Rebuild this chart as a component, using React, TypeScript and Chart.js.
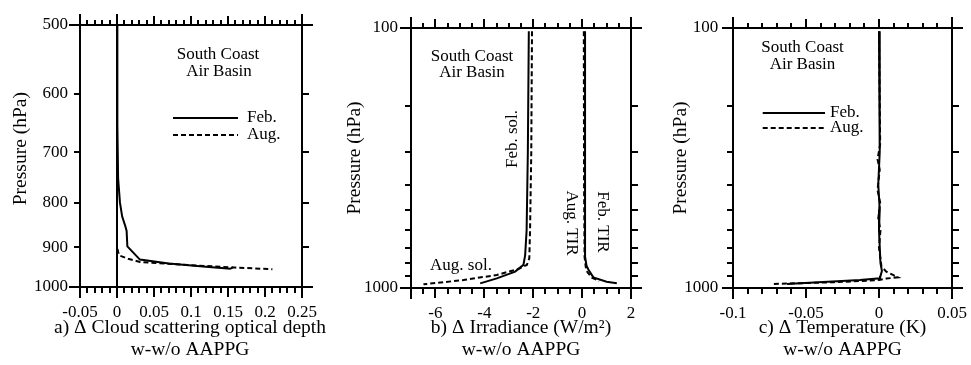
import React, { useEffect, useRef } from 'react';
import { Chart, registerables } from 'chart.js';

Chart.register(...registerables);

const SERIF = '"Liberation Serif", "Times New Roman", Times, serif';
Chart.defaults.font.family = SERIF;
Chart.defaults.font.size = 17;
Chart.defaults.color = '#000';

// ---------- Panel a: cloud scattering optical depth ----------
const aFebTau = [0, 0.0005, 0.0015, 0.004, 0.007, 0.011, 0.013, 0.014, 0.031, 0.07, 0.12, 0.153, 0.157];
const aFebP = [500, 650, 750, 800, 830, 850, 862, 898, 930, 940, 948, 953, 949];
const aAugTau = [0, 0, 0.001, 0.003, 0.015, 0.031, 0.1, 0.16, 0.21];
const aAugP = [500, 895, 908, 920, 928, 936, 944, 950, 954];
const aXMajor = [-0.05, 0, 0.05, 0.1, 0.15, 0.2, 0.25];
const aXLabels = ['-0.05', '0', '0.05', '0.1', '0.15', '0.2', '0.25'];
const aYMajor = [500, 600, 700, 800, 900, 1000];
const aYLabels = ['500', '600', '700', '800', '900', '1000'];

// ---------- Panel b: irradiance ----------
const bFebSolW = [-2.18, -2.22, -2.27, -2.33, -2.4, -2.74, -3.49, -4.17];
const bFebSolP = [103, 300, 600, 747, 815, 865, 918, 960];
const bAugSolW = [-2.05, -2.08, -2.13, -2.16, -2.26, -2.61, -3.49, -4.85, -6.49];
const bAugSolP = [103, 300, 600, 769, 815, 845, 891, 932, 968];
const bFebTirW = [0.12, 0.12, 0.12, 0.18, 0.26, 0.46, 1.0, 1.42];
const bFebTirP = [103, 400, 758, 820, 851, 910, 946, 959];
const bAugTirW = [0.07, 0.08, 0.1, 0.15, 0.22, 0.4, 0.7];
const bAugTirP = [103, 400, 758, 830, 870, 912, 940];
const bXMajor = [-6, -4, -2, 0, 2];
const bXLabels = ['-6', '-4', '-2', '0', '2'];

// ---------- Panel c: temperature ----------
const cFebT = [0, 0.0005, -0.0005, 0.0005, 0, 0.001, 0.002, 0.001, 0.0007, -0.013, -0.054, -0.063];
const cFebP = [103, 300, 400, 500, 600, 800, 860, 900, 918, 932, 959, 966];
const cAugT = [0, 0.0008, -0.001, 0.0005, -0.001, 0.0008, -0.0005, 0.001, 0, 0.0017, 0.005, 0.0096, 0.013, 0.005, 0, -0.03, -0.072];
const cAugP = [103, 280, 320, 350, 420, 470, 540, 600, 700, 827, 865, 891, 910, 920, 932, 950, 965];
const cXMajor = [-0.1, -0.05, 0, 0.05];
const cXLabels = ['-0.1', '-0.05', '0', '0.05'];

// shared pressure ticks for b and c
const pYMajor = [100, 1000];
const pYLabels = ['100', '1000'];

const TL = 11;
const TITLE_SIZE = 19.5;

function range(min: number, max: number, step: number) {
  const out: number[] = [];
  const n = Math.round((max - min) / step);
  for (let i = 0; i <= n; i++) out.push(+(min + i * step).toFixed(6));
  return out;
}
const near = (a: number, b: number) => Math.abs(a - b) < 1e-9;

type AxisSpec = {
  min: number; max: number; step: number; major: number[]; labels: string[]; zero?: boolean;
};

function makeAxis(kind: 'x' | 'y', pos: string, s: AxisSpec, size: number, showLabels: boolean, pad: number, title: any) {
  const outerFirst = pos === 'top' || pos === 'left';
  const vals = range(s.min, s.max, s.step);
  const lenOf = (v: number) => {
    if (near(v, s.min) || near(v, s.max)) return TL;
    if (s.zero && near(v, 0)) return TL;
    if (kind === 'y') return 6;
    if (s.major.some((m) => near(m, v))) return 9;
    return 5;
  };
  return {
    type: kind === 'y' ? 'logarithmic' : 'linear',
    axis: kind,
    position: pos,
    min: s.min,
    max: s.max,
    reverse: kind === 'y',
    afterBuildTicks: (sc: any) => {
      sc.ticks = vals.map((v) => ({ value: v }));
    },
    afterFit: (sc: any) => {
      if (kind === 'x') sc.height = size;
      else sc.width = size;
    },
    border: { display: true, color: '#000', width: 2 },
    grid: {
      display: true,
      drawOnChartArea: !!s.zero && pos === 'bottom',
      color: (c: any) => (c.tick && near(c.tick.value, 0) ? '#000' : 'rgba(0,0,0,0)'),
      lineWidth: 2,
      drawTicks: true,
      tickLength: TL,
      tickColor: '#000',
      tickWidth: 2,
      tickBorderDash: (c: any) => {
        const L = lenOf(c.tick ? c.tick.value : NaN);
        if (L >= TL) return [];
        return outerFirst ? [0, TL - L, L, 100] : [L, 100];
      },
    },
    ticks: {
      display: showLabels,
      autoSkip: false,
      maxRotation: 0,
      minRotation: 0,
      padding: pad,
      color: '#000',
      font: { family: SERIF, size: 17, lineHeight: 1.2 },
      callback: (v: number) => {
        const i = s.major.findIndex((m) => near(m, v));
        return i >= 0 ? s.labels[i] : '';
      },
    },
    title: title || { display: false },
  };
}

type Note = { text: string; x: number; y: number; rot?: number; size?: number };
type Key = { x1: number; x2: number; y: number; dash: number[]; label: string; tx: number };
type Series = { xs: number[]; ps: number[]; dashed: boolean };

type PanelSpec = {
  left: number; width: number;
  leftW: number; rightW: number; topH: number; bottomH: number;
  x: AxisSpec; y: AxisSpec;
  xTitle: string[]; xTitleFree?: { x: number; y: number[] };
  yTitle: string; yTitlePad: number; yTickPad: number;
  series: Series[]; notes: Note[]; keys: Key[];
};

function notesPlugin(notes: Note[], keys: Key[]) {
  return {
    id: 'notes',
    afterDatasetsDraw(chart: any) {
      const ctx = chart.ctx as CanvasRenderingContext2D;
      ctx.save();
      ctx.fillStyle = '#000';
      ctx.strokeStyle = '#000';
      ctx.textBaseline = 'middle';
      for (const n of notes) {
        ctx.save();
        ctx.font = `${n.size || 17}px ${SERIF}`;
        ctx.translate(n.x, n.y);
        ctx.rotate(n.rot || 0);
        ctx.textAlign = 'center';
        ctx.fillText(n.text, 0, 0);
        ctx.restore();
      }
      ctx.font = `17px ${SERIF}`;
      for (const k of keys) {
        ctx.beginPath();
        ctx.lineWidth = 2;
        ctx.setLineDash(k.dash);
        ctx.moveTo(k.x1, k.y);
        ctx.lineTo(k.x2, k.y);
        ctx.stroke();
        ctx.setLineDash([]);
        ctx.textAlign = 'left';
        ctx.fillText(k.label, k.tx, k.y);
      }
      ctx.restore();
    },
  };
}

function buildConfig(p: PanelSpec): any {
  const xTitle = p.xTitleFree
    ? { display: false }
    : {
        display: true,
        text: p.xTitle,
        color: '#000',
        font: { family: SERIF, size: TITLE_SIZE, lineHeight: 1.15 },
        padding: { top: 0, bottom: 3.8 },
      };
  const yTitle = {
    display: true,
    text: p.yTitle,
    color: '#000',
    font: { family: SERIF, size: TITLE_SIZE, lineHeight: 1.2 },
    padding: { top: p.yTitlePad, bottom: 0 },
  };
  const notes = p.xTitleFree
    ? p.notes.concat(p.xTitle.map((t, i) => ({ text: t, x: p.xTitleFree!.x, y: p.xTitleFree!.y[i], size: TITLE_SIZE })))
    : p.notes;
  return {
    type: 'line',
    data: {
      datasets: p.series.map((s) => ({
        data: s.xs.map((x, i) => ({ x, y: s.ps[i] })),
        borderColor: '#000',
        borderWidth: 2,
        borderDash: s.dashed ? [5, 3] : [],
        pointRadius: 0,
        fill: false,
        tension: 0,
        xAxisID: 'x',
        yAxisID: 'y',
      })),
    },
    options: {
      responsive: false,
      animation: false,
      events: [],
      layout: { padding: 0 },
      plugins: { legend: { display: false }, tooltip: { enabled: false } },
      scales: {
        x: makeAxis('x', 'bottom', p.x, p.bottomH, true, 4, xTitle),
        x2: makeAxis('x', 'top', p.x, p.topH, false, 0, null),
        y: makeAxis('y', 'left', p.y, p.leftW, true, p.yTickPad, yTitle),
        y2: makeAxis('y', 'right', p.y, p.rightW, false, 0, null),
      },
    },
    plugins: [notesPlugin(notes, p.keys)],
  };
}

const panelA: PanelSpec = {
  left: 0, width: 330, leftW: 80, rightW: 28, topH: 25, bottomH: 78,
  x: { min: -0.05, max: 0.25, step: 0.01, major: aXMajor, labels: aXLabels, zero: true },
  y: { min: 500, max: 1000, step: 100, major: aYMajor, labels: aYLabels },
  xTitle: ['a) \u0394 Cloud scattering optical depth', 'w-w/o AAPPG'],
  xTitleFree: { x: 190, y: [328, 350] },
  yTitle: '   Pressure (hPa)', yTitlePad: 9.3, yTickPad: 1,
  series: [
    { xs: aFebTau, ps: aFebP, dashed: false },
    { xs: aAugTau, ps: aAugP, dashed: true },
  ],
  notes: [
    { text: 'South Coast', x: 218, y: 55 },
    { text: 'Air Basin', x: 219, y: 72 },
  ],
  keys: [
    { x1: 173, x2: 238, y: 118, dash: [], label: 'Feb.', tx: 247 },
    { x1: 173, x2: 238, y: 135, dash: [5, 3], label: 'Aug.', tx: 247 },
  ],
};

const panelB: PanelSpec = {
  left: 330, width: 320, leftW: 81, rightW: 19, topH: 28, bottomH: 77,
  x: { min: -7, max: 2, step: 0.5, major: bXMajor, labels: bXLabels },
  y: { min: 100, max: 1000, step: 100, major: pYMajor, labels: pYLabels },
  xTitle: ['b) \u0394 Irradiance (W/m\u00b2)', 'w-w/o AAPPG'],
  yTitle: 'Pressure (hPa)', yTitlePad: 13.3, yTickPad: 2,
  series: [
    { xs: bFebSolW, ps: bFebSolP, dashed: false },
    { xs: bAugSolW, ps: bAugSolP, dashed: true },
    { xs: bFebTirW, ps: bFebTirP, dashed: false },
    { xs: bAugTirW, ps: bAugTirP, dashed: true },
  ],
  notes: [
    { text: 'South Coast', x: 142, y: 57 },
    { text: 'Air Basin', x: 142, y: 73 },
    { text: 'Feb. sol.', x: 182.5, y: 139, rot: -Math.PI / 2 },
    { text: 'Aug. TIR', x: 241, y: 223, rot: Math.PI / 2 },
    { text: 'Feb. TIR', x: 272.5, y: 222, rot: Math.PI / 2 },
    { text: 'Aug. sol.', x: 131, y: 266 },
  ],
  keys: [],
};

const panelC: PanelSpec = {
  left: 650, width: 321, leftW: 83, rightW: 19, topH: 28, bottomH: 77,
  x: { min: -0.1, max: 0.05, step: 0.01, major: cXMajor, labels: cXLabels },
  y: { min: 100, max: 1000, step: 100, major: pYMajor, labels: pYLabels },
  xTitle: ['c) \u0394 Temperature (K)', 'w-w/o AAPPG'],
  yTitle: 'Pressure (hPa)', yTitlePad: 19.1, yTickPad: 3.7,
  series: [
    { xs: cFebT, ps: cFebP, dashed: false },
    { xs: cAugT, ps: cAugP, dashed: true },
  ],
  notes: [
    { text: 'South Coast', x: 152.5, y: 48 },
    { text: 'Air Basin', x: 152.5, y: 65 },
  ],
  keys: [
    { x1: 112.7, x2: 175, y: 113, dash: [], label: 'Feb.', tx: 180 },
    { x1: 112.7, x2: 175, y: 128, dash: [5, 3], label: 'Aug.', tx: 180 },
  ],
};

function Panel({ spec }: { spec: PanelSpec }) {
  const ref = useRef<HTMLCanvasElement>(null);
  useEffect(() => {
    const chart = new Chart(ref.current as HTMLCanvasElement, buildConfig(spec));
    return () => chart.destroy();
  }, [spec]);
  return (
    <canvas
      ref={ref}
      width={spec.width}
      height={365}
      style={{ position: 'absolute', left: spec.left, top: 0, width: spec.width, height: 365, display: 'block' }}
    />
  );
}

export default function App() {
  return (
    <div style={{ position: 'absolute', left: 0, top: 0, width: 971, height: 365, background: '#fff', overflow: 'hidden' }}>
      <Panel spec={panelA} />
      <Panel spec={panelB} />
      <Panel spec={panelC} />
    </div>
  );
}
